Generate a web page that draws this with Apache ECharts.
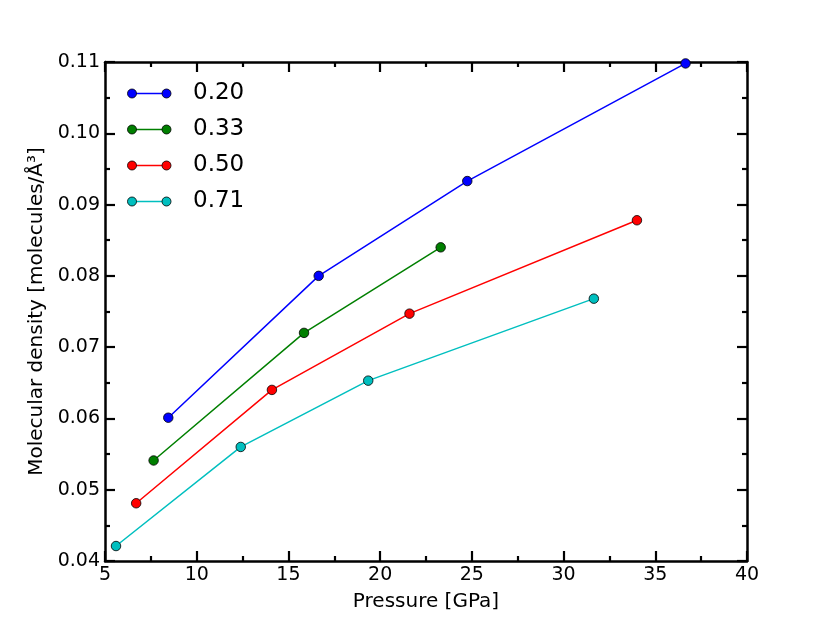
<!DOCTYPE html>
<html><head><meta charset="utf-8">
<script src="https://cdn.jsdelivr.net/npm/echarts@6/dist/echarts.min.js"></script>
<style>html,body{margin:0;padding:0;background:#fff}#c{width:830px;height:623px}</style>
</head><body><div id="c"></div>
<script>
const seriesNames = ['0.20', '0.33', '0.50', '0.71'];
const seriesColors = ['#0000ff', '#007f00', '#ff0000', '#00bfbf'];
const p020 = [[8.45, 0.0601], [16.65, 0.0800], [24.75, 0.0933], [36.65, 0.1098]];
const p033 = [[7.65, 0.0541], [15.85, 0.0720], [23.3, 0.0840]];
const p050 = [[6.7, 0.0481], [14.1, 0.0640], [21.6, 0.0747], [34.0, 0.0878]];
const p071 = [[5.6, 0.0421], [12.4, 0.0560], [19.35, 0.0653], [31.65, 0.0768]];
const allData = [p020, p033, p050, p071];

const FONT = 'DejaVu Sans';
const chart = echarts.init(document.getElementById('c'), null, {renderer: 'canvas'});

function axisBase(extra) {
  return Object.assign({
    axisLine: {show: true, onZero: false, lineStyle: {color: '#000', width: 2.5}},
    axisTick: {show: true, inside: true, length: 10, lineStyle: {color: '#000', width: 2.2}},
    minorTick: {show: true, splitNumber: 2, length: 5, lineStyle: {color: '#000', width: 2.2}},
    splitLine: {show: false},
  }, extra);
}

const series = allData.map((d, i) => ({
  name: seriesNames[i],
  type: 'line',
  data: d,
  xAxisIndex: 0, yAxisIndex: 0,
  symbol: 'circle',
  symbolSize: 9.5,
  lineStyle: {color: seriesColors[i], width: 1.5},
  itemStyle: {color: seriesColors[i], borderColor: '#000', borderWidth: 0.8},
  emphasis: {disabled: true},
  animation: false,
  clip: false,
  z: 3
}));

// legend drawn with graphic elements
const legendGraphics = [];
seriesNames.forEach((n, i) => {
  const y = 93.5 + i * 36;
  legendGraphics.push({type: 'line', shape: {x1: 132, y1: y, x2: 166.5, y2: y}, style: {stroke: seriesColors[i], lineWidth: 1.5}, z: 10});
  legendGraphics.push({type: 'circle', shape: {cx: 132, cy: y, r: 4.5}, style: {fill: seriesColors[i], stroke: '#000', lineWidth: 0.8}, z: 11});
  legendGraphics.push({type: 'circle', shape: {cx: 166.5, cy: y, r: 4.5}, style: {fill: seriesColors[i], stroke: '#000', lineWidth: 0.8}, z: 11});
  legendGraphics.push({type: 'text', x: 193, y: y, style: {text: n, font: '23px "DejaVu Sans"', fill: '#000', verticalAlign: 'middle', textAlign: 'left'}, z: 10});
});

chart.setOption({
  animation: false,
  backgroundColor: '#fff',
  grid: {left: 105, right: 83, top: 62, bottom: 62, containLabel: false},
  xAxis: [
    axisBase({type: 'value', position: 'bottom', min: 5, max: 40, interval: 5,
      name: 'Pressure [GPa]', nameLocation: 'middle', nameGap: 31,
      nameTextStyle: {fontFamily: FONT, fontSize: 20, color: '#000'},
      axisLabel: {fontFamily: FONT, fontSize: 19, color: '#000', margin: 5}}),
    axisBase({type: 'value', position: 'top', min: 5, max: 40, interval: 5,
      axisLabel: {show: false}})
  ],
  yAxis: [
    axisBase({type: 'value', position: 'left', min: 0.04, max: 0.11, interval: 0.01,
      name: 'Molecular density [molecules/Å³]', nameLocation: 'middle', nameGap: 58,
      nameTextStyle: {fontFamily: FONT, fontSize: 20, color: '#000'},
      axisLabel: {fontFamily: FONT, fontSize: 19, color: '#000', margin: 5,
        formatter: v => v.toFixed(2)}}),
    axisBase({type: 'value', position: 'right', min: 0.04, max: 0.11, interval: 0.01,
      axisLabel: {show: false}})
  ],
  series: series,
  graphic: legendGraphics
});
</script></body></html>
